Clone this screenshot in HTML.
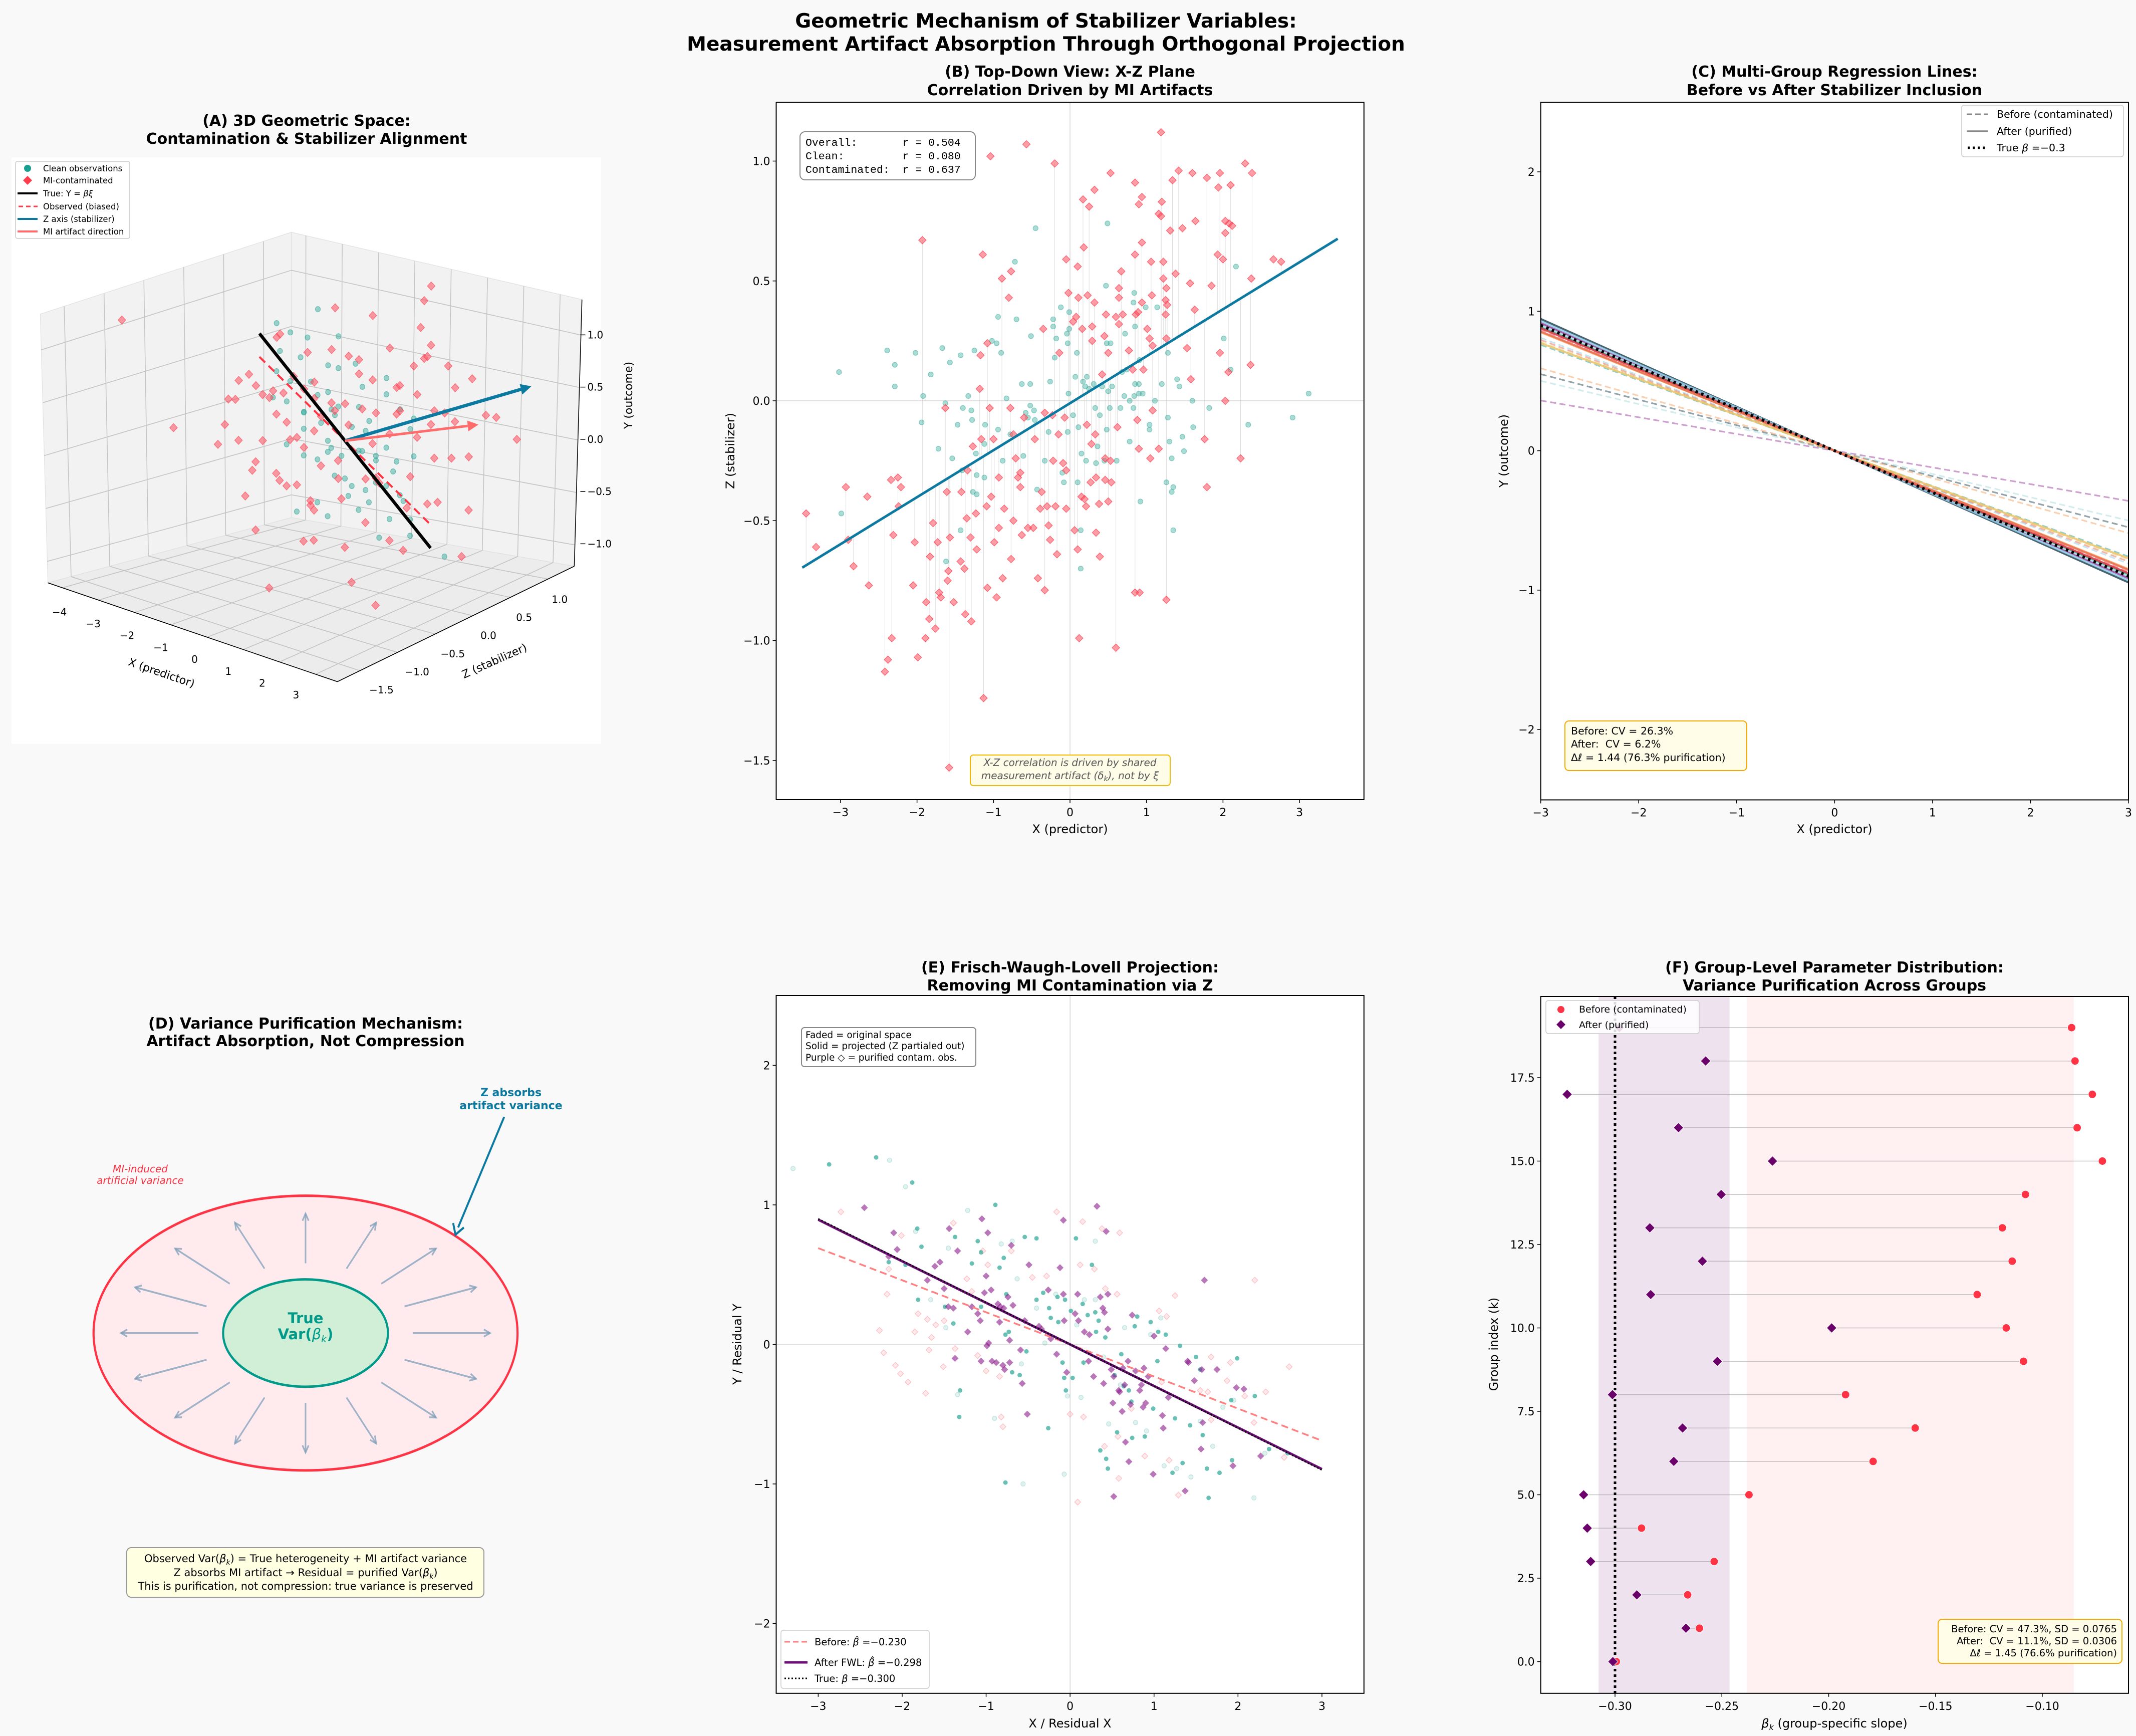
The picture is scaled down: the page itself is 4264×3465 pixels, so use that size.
<!DOCTYPE html>
<html><head><meta charset="utf-8"><title>Geometric Mechanism of Stabilizer Variables</title>
<style>
html,body{margin:0;padding:0;background:#f9f9f9;}
svg{display:block;font-family:"DejaVu Sans","Liberation Sans",sans-serif;}
.t{font-weight:bold;fill:#000;}
.tk{font-size:22px;fill:#000;}
.lab{font-size:24px;fill:#000;}
</style></head>
<body>
<svg id="fig" xmlns="http://www.w3.org/2000/svg" width="4264" height="3465" viewBox="0 0 4264 3465">
<rect x="0" y="0" width="4264" height="3465" fill="#f9f9f9"/>
<text class="t" x="2088" y="55" font-size="39" text-anchor="middle">Geometric Mechanism of Stabilizer Variables:</text>
<text class="t" x="2088" y="101" font-size="39" text-anchor="middle">Measurement Artifact Absorption Through Orthogonal Projection</text>

<!-- Panel A -->
<g id="panelA">
<text class="t" x="612" y="251" font-size="30" text-anchor="middle">(A) 3D Geometric Space:</text>
<text class="t" x="612" y="287" font-size="30" text-anchor="middle">Contamination &amp; Stabilizer Alignment</text>
<rect x="23" y="314" width="1177" height="1171" fill="#ffffff"/>
<g id="aG" transform="translate(0,200) scale(0.7653,0.829)"></g>
<g id="aT"></g>
<text x="320" y="1350" font-size="22" text-anchor="middle" transform="rotate(19 320 1350)">X (predictor)</text>
<text x="990" y="1326" font-size="22" text-anchor="middle" transform="rotate(-24 990 1326)">Z (stabilizer)</text>
<text x="1262" y="789" font-size="22" text-anchor="middle" transform="rotate(-90 1262 789)">Y (outcome)</text>
<g>
<rect x="31" y="322" width="228" height="154" rx="4" fill="#fff" fill-opacity="0.85" stroke="#ccc" stroke-width="1.5"/>
<circle cx="55" cy="336" r="7" fill="#17a08f"/>
<path d="M55 351 L64 360 L55 369 L46 360 Z" fill="#ff3b4e"/>
<line x1="35" y1="386" x2="75" y2="386" stroke="#000" stroke-width="4"/>
<line x1="37" y1="412" x2="75" y2="412" stroke="#ff3b4e" stroke-width="3" stroke-dasharray="9,6"/>
<line x1="35" y1="437" x2="75" y2="437" stroke="#0b79a0" stroke-width="4"/>
<line x1="35" y1="462" x2="75" y2="462" stroke="#ff6b6b" stroke-width="4"/>
<g font-size="16.5">
<text x="86" y="342">Clean observations</text>
<text x="86" y="366">MI-contaminated</text>
<text x="86" y="392">True: Y = <tspan font-style="italic">βξ</tspan></text>
<text x="86" y="418">Observed (biased)</text>
<text x="86" y="443">Z axis (stabilizer)</text>
<text x="86" y="468">MI artifact direction</text>
</g></g>
</g>

<!-- Panel B -->
<g id="panelB">
<text class="t" x="2136" y="153" font-size="30" text-anchor="middle">(B) Top-Down View: X-Z Plane</text>
<text class="t" x="2136" y="190" font-size="30" text-anchor="middle">Correlation Driven by MI Artifacts</text>
<rect x="1549.5" y="204" width="1173.3" height="1392" fill="#fff"/>
<g id="bG"></g>
<rect x="1549.5" y="204" width="1173.3" height="1392" fill="none" stroke="#000" stroke-width="2"/>
<text class="lab" x="2136" y="1663" text-anchor="middle">X (predictor)</text>
<text class="lab" x="1466" y="900" text-anchor="middle" transform="rotate(-90 1466 900)">Z (stabilizer)</text>
<g>
<rect x="1597" y="263" width="350" height="96" rx="10" fill="#fff" stroke="#888" stroke-width="2"/>
<text x="1608" y="291" font-family="Liberation Mono, DejaVu Sans Mono, monospace" font-size="21.5" xml:space="preserve">Overall:       r = 0.504</text>
<text x="1608" y="318" font-family="Liberation Mono, DejaVu Sans Mono, monospace" font-size="21.5" xml:space="preserve">Clean:         r = 0.080</text>
<text x="1608" y="345" font-family="Liberation Mono, DejaVu Sans Mono, monospace" font-size="21.5" xml:space="preserve">Contaminated:  r = 0.637</text>
</g>
<g>
<rect x="1937" y="1507" width="399" height="61" rx="6" fill="#fffde8" stroke="#f5b800" stroke-width="2"/>
<text x="2136" y="1529" font-size="20" font-style="italic" fill="#555" text-anchor="middle">X-Z correlation is driven by shared</text>
<text x="2136" y="1555" font-size="20" font-style="italic" fill="#555" text-anchor="middle">measurement artifact (δ<tspan font-size="14" dy="4">k</tspan><tspan dy="-4">), not by ξ</tspan></text>
</g>
</g>

<!-- Panel C -->
<g id="panelC">
<text class="t" x="3662" y="153" font-size="30" text-anchor="middle">(C) Multi-Group Regression Lines:</text>
<text class="t" x="3662" y="190" font-size="30" text-anchor="middle">Before vs After Stabilizer Inclusion</text>
<rect x="3075.7" y="204" width="1173.3" height="1392.5" fill="#fff"/>
<g id="cG"></g>
<rect x="3075.7" y="204" width="1173.3" height="1392.5" fill="none" stroke="#000" stroke-width="2"/>
<text class="lab" x="3662" y="1663" text-anchor="middle">X (predictor)</text>
<text class="lab" x="3010" y="900" text-anchor="middle" transform="rotate(-90 3010 900)">Y (outcome)</text>
<g>
<rect x="3916" y="210" width="323" height="103" rx="5" fill="#fff" stroke="#ccc" stroke-width="1.5"/>
<line x1="3926" y1="228" x2="3968" y2="228" stroke="#888" stroke-width="3" stroke-dasharray="11,6"/>
<line x1="3926" y1="262" x2="3968" y2="262" stroke="#888" stroke-width="3.5"/>
<line x1="3928" y1="295" x2="3968" y2="295" stroke="#000" stroke-width="5" stroke-dasharray="4,6"/>
<text x="3986" y="235" font-size="20.5">Before (contaminated)</text>
<text x="3986" y="269" font-size="20.5">After (purified)</text>
<text x="3986" y="302" font-size="20.5">True <tspan font-style="italic">β</tspan> =−0.3</text>
</g>
<g>
<rect x="3124" y="1439" width="363" height="99" rx="8" fill="#fffde8" stroke="#f5a800" stroke-width="2"/>
<text x="3136" y="1466" font-size="20.5">Before: CV = 26.3%</text>
<text x="3136" y="1492" font-size="20.5" xml:space="preserve">After:  CV = 6.2%</text>
<text x="3136" y="1519" font-size="20.5">Δ<tspan font-style="italic">ℓ</tspan> = 1.44 (76.3% purification)</text>
</g>
</g>

<!-- Panel D -->
<g id="panelD">
<text class="t" x="610" y="2053" font-size="30" text-anchor="middle">(D) Variance Purification Mechanism:</text>
<text class="t" x="610" y="2088" font-size="30" text-anchor="middle">Artifact Absorption, Not Compression</text>
<g id="dG" transform="translate(0,1850) scale(0.7653,0.8929)"></g>
<text x="610" y="2641" font-size="29" font-weight="bold" fill="#009a8a" text-anchor="middle">True</text>
<text x="610" y="2673" font-size="29" font-weight="bold" fill="#009a8a" text-anchor="middle">Var(<tspan font-style="italic" font-weight="normal">β</tspan><tspan font-size="19" dy="6" font-style="italic" font-weight="normal">k</tspan><tspan dy="-6">)</tspan></text>
<text x="280" y="2340" font-size="20" font-style="italic" fill="#ff3344" text-anchor="middle">MI-induced</text>
<text x="280" y="2363" font-size="20" font-style="italic" fill="#ff3344" text-anchor="middle">artificial variance</text>
<text x="1020" y="2188" font-size="22" font-weight="bold" fill="#0b79a0" text-anchor="middle">Z absorbs</text>
<text x="1020" y="2214" font-size="22" font-weight="bold" fill="#0b79a0" text-anchor="middle">artifact variance</text>
<g>
<rect x="253" y="3089" width="713" height="99" rx="9" fill="#ffffe2" stroke="#999" stroke-width="2"/>
<text x="610" y="3118" font-size="21" text-anchor="middle">Observed Var(<tspan font-style="italic">β</tspan><tspan font-size="14" dy="5" font-style="italic">k</tspan><tspan dy="-5">) = True heterogeneity + MI artifact variance</tspan></text>
<text x="610" y="3146" font-size="21" text-anchor="middle">Z absorbs MI artifact → Residual = purified Var(<tspan font-style="italic">β</tspan><tspan font-size="14" dy="5" font-style="italic">k</tspan><tspan dy="-5">)</tspan></text>
<text x="610" y="3173" font-size="21" text-anchor="middle">This is purification, not compression: true variance is preserved</text>
</g>
</g>

<!-- Panel E -->
<g id="panelE">
<text class="t" x="2136" y="1941" font-size="30" text-anchor="middle">(E) Frisch-Waugh-Lovell Projection:</text>
<text class="t" x="2136" y="1977" font-size="30" text-anchor="middle">Removing MI Contamination via Z</text>
<rect x="1549.5" y="1987" width="1173.3" height="1392.8" fill="#fff"/>
<g id="eG"></g>
<rect x="1549.5" y="1987" width="1173.3" height="1392.8" fill="none" stroke="#000" stroke-width="2"/>
<text class="lab" x="2136" y="3448" text-anchor="middle">X / Residual X</text>
<text class="lab" x="1480" y="2683" text-anchor="middle" transform="rotate(-90 1480 2683)">Y / Residual Y</text>
<g>
<rect x="1600" y="2051" width="348" height="78" rx="6" fill="#fff" stroke="#888" stroke-width="2"/>
<text x="1608" y="2072" font-size="18.5">Faded = original space</text>
<text x="1608" y="2094" font-size="18.5">Solid = projected (Z partialed out)</text>
<text x="1608" y="2117" font-size="18.5">Purple ◇ = purified contam. obs.</text>
</g>
<g>
<rect x="1559" y="3254" width="296" height="116" rx="5" fill="#fff" stroke="#ccc" stroke-width="1.5"/>
<line x1="1566" y1="3277" x2="1612" y2="3277" stroke="#ff8080" stroke-width="3" stroke-dasharray="11,6"/>
<line x1="1566" y1="3318" x2="1612" y2="3318" stroke="#6d0f77" stroke-width="5"/>
<line x1="1566" y1="3350" x2="1612" y2="3350" stroke="#000" stroke-width="3" stroke-dasharray="3,4"/>
<text x="1626" y="3284" font-size="19.5">Before: <tspan font-style="italic">β̂</tspan> =−0.230</text>
<text x="1626" y="3325" font-size="19.5">After FWL: <tspan font-style="italic">β̂</tspan> =−0.298</text>
<text x="1626" y="3357" font-size="19.5">True: <tspan font-style="italic">β</tspan> =−0.300</text>
</g>
</g>

<!-- Panel F -->
<g id="panelF">
<text class="t" x="3662" y="1941" font-size="30" text-anchor="middle">(F) Group-Level Parameter Distribution:</text>
<text class="t" x="3662" y="1977" font-size="30" text-anchor="middle">Variance Purification Across Groups</text>
<rect x="3075.7" y="1989" width="1173.3" height="1390.8" fill="#fff"/>
<g id="fG"></g>
<rect x="3075.7" y="1989" width="1173.3" height="1390.8" fill="none" stroke="#000" stroke-width="2"/>
<text class="lab" x="3662" y="3448" text-anchor="middle"><tspan font-style="italic">β</tspan><tspan font-size="16" dy="5" font-style="italic">k</tspan><tspan dy="-5"> (group-specific slope)</tspan></text>
<text class="lab" x="2990" y="2683" text-anchor="middle" transform="rotate(-90 2990 2683)">Group index (k)</text>
<g>
<rect x="3086" y="1997" width="306" height="66" rx="5" fill="#fff" fill-opacity="0.85" stroke="#ccc" stroke-width="1.5"/>
<circle cx="3116" cy="2015" r="7" fill="#ff3344"/>
<path d="M3116 2036 L3125 2045 L3116 2054 L3107 2045 Z" fill="#6b006b"/>
<text x="3152" y="2021" font-size="19">Before (contaminated)</text>
<text x="3152" y="2052" font-size="19">After (purified)</text>
</g>
<g>
<rect x="3869" y="3232" width="367" height="88" rx="8" fill="#fffde8" stroke="#f5a800" stroke-width="2"/>
<text x="4226" y="3258" font-size="19.5" text-anchor="end">Before: CV = 47.3%, SD = 0.0765</text>
<text x="4226" y="3282" font-size="19.5" text-anchor="end" xml:space="preserve">After:  CV = 11.1%, SD = 0.0306</text>
<text x="4226" y="3306" font-size="19.5" text-anchor="end">Δ<tspan font-style="italic">ℓ</tspan> = 1.45 (76.6% purification)</text>
</g>
</g>
</svg>

<script>
const NS = 'http://www.w3.org/2000/svg';
function add(parent, tag, attrs) {
  const e = document.createElementNS(NS, tag);
  for (const k in attrs) e.setAttribute(k, attrs[k]);
  parent.appendChild(e);
  return e;
}
function diamond(x, y, h) { return 'M' + x + ' ' + (y - h) + 'L' + (x + h) + ' ' + y + 'L' + x + ' ' + (y + h) + 'L' + (x - h) + ' ' + y + 'Z'; }

/* ================= DATA ================= */
// Panel A (3D): [x, z, y]
const aContam = [[-4.3,-1.1,1.05],[-3.8,-0.6,-0.1],[-2.6,0.3,0.6],[-2.4,-0.5,0.3],[-2.2,-0.2,0.35],[-2.0,0.1,0.2],[-2.1,-0.8,0.0],[-1.9,0.4,0.5],[-1.8,-0.3,-0.1],[-1.6,0.2,0.25],[-1.5,-0.6,-0.25],[-1.4,0.5,0.55],[-1.3,-0.2,0.1],[-1.2,0.0,-0.2],[-1.1,-0.9,-0.35],[-1.0,0.3,0.15],[-0.9,-0.4,-0.4],[-0.8,0.6,0.35],[-0.7,-0.1,0.05],[-0.6,0.2,-0.5],[-0.5,-0.7,-0.2],[-0.4,0.4,0.6],[-0.3,-0.3,-0.6],[-0.2,0.1,0.3],[0.0,-0.5,-0.45],[0.1,0.6,0.7],[0.2,-0.2,-0.1],[0.3,0.3,0.2],[0.4,-0.8,-0.65],[0.5,0.5,0.4],[0.6,0.0,-0.3],[0.7,0.8,0.6],[0.8,-0.4,-0.8],[0.9,0.2,0.1],[1.0,0.6,1.0],[1.1,-0.1,-0.2],[1.2,0.9,0.55],[1.3,0.3,-0.3],[1.4,-0.6,-1.0],[1.5,0.7,0.2],[1.6,0.1,-0.5],[1.7,1.0,0.45],[1.8,0.4,-0.1],[2.0,0.8,-0.2],[2.1,-0.2,-0.75],[2.2,1.1,0.1],[2.4,0.6,-0.6],[2.6,1.2,-0.1],[0.5,0.9,1.1],[-0.2,-1.0,-1.1],[1.9,-0.5,-1.2],[-1.7,0.7,0.85],[0.3,1.1,1.15],[2.8,0.3,-0.9],[-2.8,-0.2,0.15],[-1.2,-0.5,0.45],[-0.6,0.7,0.9],[0.9,-0.9,-0.55],[1.4,0.5,0.8],[-2.3,0.2,0.7],[2.3,0.2,-0.4],[-1.0,-0.8,-0.7],[0.0,0.4,0.45],[1.0,1.1,0.25],
[-2.5,-0.3,0.4],[-2.3,-0.6,0.1],[-2.0,-0.4,0.55],[-1.9,-0.1,0.3],[-1.7,-0.7,0.05],[-1.6,-0.4,0.4],[-1.5,0.0,0.45],[-1.4,-0.3,0.2],[-1.3,0.2,0.35],[-1.2,-0.7,-0.1],[-1.1,0.1,0.25],[-1.0,-0.3,0.0],[-0.9,0.1,0.1],[-0.8,-0.6,-0.2],[-0.6,-0.4,0.1],[-0.5,0.1,0.2],[-0.4,-0.5,-0.3],[-0.3,0.2,0.05],[-0.1,-0.3,-0.15],[0.1,0.2,0.25],[0.2,-0.6,-0.35],[0.4,0.2,-0.05],[0.5,-0.3,-0.4],[0.7,0.4,0.2],[0.8,0.1,-0.35],[1.0,0.3,0.3],[1.1,0.5,0.4],[1.2,-0.3,-0.55],[1.3,0.6,0.1],[1.5,0.3,0.1],[1.6,0.5,0.3],[1.7,-0.2,-0.7],[1.8,0.7,0.15],[2.0,0.2,-0.45],[2.1,0.5,-0.1],[2.3,0.9,0.2],[0.6,0.7,0.55],[-0.7,0.4,0.6],[0.9,0.8,0.75],[1.2,0.2,0.6]];
const aClean = [[-2.0,0.2,0.75],[-1.8,-0.1,0.5],[-1.5,0.1,0.6],[-1.3,-0.2,0.3],[-1.1,0.3,0.5],[-1.0,-0.1,0.2],[-0.8,0.0,0.35],[-0.7,0.2,0.1],[-0.6,-0.3,0.15],[-0.4,0.1,0.25],[-0.3,-0.1,0.0],[-0.2,0.3,0.2],[-0.1,-0.2,-0.05],[0.0,0.1,0.1],[0.1,-0.1,-0.1],[0.2,0.2,0.05],[0.3,-0.3,-0.2],[0.4,0.0,-0.05],[0.5,0.2,-0.2],[0.6,-0.2,-0.3],[0.7,0.1,-0.1],[0.8,-0.1,-0.35],[0.9,0.3,-0.2],[1.0,-0.3,-0.45],[1.2,0.0,-0.3],[1.3,0.2,-0.5],[1.5,-0.1,-0.55],[1.7,0.1,-0.6],[-1.2,0.5,0.7],[-0.5,0.4,0.55],[0.2,-0.5,-0.4],[1.1,0.4,0.1],[-0.9,-0.4,0.0],[0.6,0.5,0.2],[2.5,0.2,-0.9],[-1.6,0.4,0.95],[-0.2,-0.6,-0.5],[0.8,0.6,0.1],
[-1.9,0.0,0.65],[-1.7,0.3,0.7],[-1.4,-0.1,0.45],[-1.2,0.1,0.4],[-0.9,0.2,0.3],[-0.8,-0.2,0.25],[-0.6,0.1,0.2],[-0.5,-0.1,0.15],[-0.3,0.4,0.35],[-0.2,-0.3,-0.1],[0.0,-0.2,0.0],[0.1,0.3,0.1],[0.3,0.1,-0.1],[0.4,-0.2,-0.25],[0.6,0.3,-0.1],[0.7,-0.3,-0.35],[0.9,0.0,-0.3],[1.0,0.2,-0.25],[1.1,-0.2,-0.4],[1.4,0.1,-0.4],[1.6,-0.3,-0.65],[-1.0,0.4,0.45],[0.2,0.5,0.3],[-0.4,-0.4,-0.05],[1.2,0.4,-0.15],[0.5,-0.5,-0.5],[-1.5,-0.3,0.35],[1.9,0.0,-0.7],[-2.2,0.1,0.85],[0.0,0.6,0.4]];
const aTrueBeta = -0.30;
const aObsBeta = -0.21;
const aLineRange = [-2.5, 2.5];
const aZVector = [2.46, 1.48, 0.3];
const aArtifactVector = [1.78, 1.05, 0.0];
const aXTicks = [-4, -3, -2, -1, 0, 1, 2, 3];
const aZTicks = [-1.5, -1.0, -0.5, 0.0, 0.5, 1.0];
const aYTicks = [-1.0, -0.5, 0.0, 0.5, 1.0];

// Panel B: [X, Z]
const bContam = [[-3.45,-0.47],[-3.32,-0.61],[-2.93,-0.36],[-2.90,-0.58],[-2.83,-0.69],[-2.65,-0.40],[-2.63,-0.77],[-2.34,-0.33],[-2.25,-0.32],[-2.21,-0.36],[-2.24,-0.44],[-2.31,-0.56],[-2.33,-0.99],[-2.38,-1.08],[-2.42,-1.13],[-2.05,-0.77],[-2.03,-0.59],[-1.99,-1.07],[-1.93,0.67],[-1.89,-0.99],[-1.88,-0.84],[-1.83,-0.65],[-1.84,-0.91],[-1.79,-0.51],[-1.76,-0.95],[-1.73,-0.59],[-1.71,-0.80],[-1.69,-0.82],[-1.63,-0.03],[-1.61,-0.38],[-1.59,-0.71],[-1.60,-0.75],[-1.57,-0.57],[-1.52,-0.84],[-1.58,-1.53],[-1.43,-0.67],[-1.42,-0.38],[-1.38,-0.70],[-1.37,-0.89],[-1.35,-0.49],[-1.34,-0.29],[-1.30,-0.57],[-1.29,-0.92],[-1.27,-0.19],[-1.23,-0.47],[-1.22,-0.62],[-1.18,0.05],[-1.17,0.19],[-1.16,-0.16],[-1.14,0.61],[-1.13,-1.24],[-1.09,-0.44],[-1.08,0.24],[-1.08,-0.78],[-1.05,-0.03],[-1.04,1.02],[-1.03,-0.40],[-1.00,-0.16],[-0.99,-0.59],[-0.96,-0.82],[-0.93,-0.32],[-0.93,-0.53],[-0.89,0.51],[-0.88,-0.74],[-0.86,-0.45],[-0.80,0.43],[-0.78,-0.03],[-0.77,0.54],[-0.77,-0.66],[-0.74,-0.14],[-0.74,-0.50],[-0.71,-0.24],[-0.68,-0.32],[-0.65,-0.30],[-0.65,-0.36],[-0.63,-0.56],[-0.60,-0.07],[-0.57,1.07],[-0.55,-0.53],[-0.48,-0.53],[-0.46,-0.16],[-0.42,-0.74],[-0.39,-0.45],[-0.37,-0.38],[-0.35,0.30],[-0.33,-0.05],[-0.33,-0.79],[-0.30,-0.44],[-0.28,-0.52],[-0.26,-0.58],[-0.23,-0.06],[-0.22,-0.25],[-0.20,0.99],[-0.19,-0.44],[-0.17,-0.64],[-0.15,-0.14],[-0.14,0.20],[-0.09,-0.26],[-0.07,-0.07],[-0.05,0.59],[-0.05,-0.29],[-0.05,-0.45],[-0.02,0.45],[0.04,0.33],[0.06,-0.54],[0.08,0.35],[0.10,-0.62],[0.10,0.56],[0.11,0.43],[0.12,-0.99],[0.16,0.30],[0.15,-0.40],[0.17,0.84],[0.18,0.64],[0.19,-0.41],[0.21,-0.44],[0.22,-0.10],[0.23,0.44],[0.25,0.81],[0.27,-0.34],[0.28,-0.18],[0.29,0.31],[0.29,0.25],[0.32,0.88],[0.32,0.41],[0.33,-0.14],[0.34,-0.32],[0.34,-0.55],[0.38,-0.43],[0.39,-0.65],[0.42,0.11],[0.45,0.27],[0.46,-0.24],[0.46,-0.33],[0.47,0.36],[0.50,0.20],[0.50,-0.42],[0.53,0.95],[0.53,-0.25],[0.54,-0.34],[0.60,-1.03],[0.60,0.35],[0.62,-0.11],[0.64,0.47],[0.64,0.32],[0.64,0.43],[0.67,0.54],[0.69,0.36],[0.77,0.21],[0.82,0.13],[0.85,0.61],[0.85,0.91],[0.86,0.36],[0.88,-0.08],[0.89,0.37],[0.90,0.82],[0.90,-0.20],[0.94,0.85],[0.94,0.66],[0.94,0.41],[0.85,-0.80],[0.91,-0.80],[0.96,0.13],[1.01,0.30],[1.04,0.26],[1.05,-0.24],[1.06,0.58],[1.07,0.44],[1.08,-0.04],[1.08,0.23],[1.16,-0.20],[1.16,0.78],[1.19,1.12],[1.19,0.77],[1.20,0.83],[1.22,0.58],[1.22,0.51],[1.25,0.36],[1.25,0.42],[1.26,0.47],[1.27,0.40],[1.26,0.26],[1.26,-0.83],[1.31,0.71],[1.34,0.92],[1.38,0.53],[1.42,0.96],[1.47,0.72],[1.53,0.22],[1.57,0.49],[1.58,0.09],[1.60,0.95],[1.63,0.38],[1.64,0.75],[1.76,-0.16],[1.79,-0.36],[1.79,0.93],[1.85,0.48],[1.93,0.61],[1.94,0.89],[1.96,0.95],[1.96,0.20],[2.00,0.59],[2.03,0.75],[2.03,0.70],[2.03,0.00],[2.07,0.12],[2.08,0.74],[2.10,0.90],[2.12,0.73],[2.23,-0.24],[2.29,0.99],[2.36,0.15],[2.37,0.51],[2.38,0.95],[2.66,0.59],[2.76,0.58]];
const bClean = [[-3.02,0.12],[-2.99,-0.47],[-2.39,0.21],[-2.29,0.15],[-2.29,0.06],[-2.02,0.20],[-1.94,-0.09],[-1.92,0.02],[-1.82,0.11],[-1.72,-0.20],[-1.67,0.22],[-1.63,-0.01],[-1.62,-0.67],[-1.57,0.16],[-1.54,-0.24],[-1.47,-0.10],[-1.43,0.19],[-1.40,-0.03],[-1.43,-0.54],[-1.41,-0.29],[-1.33,0.02],[-1.29,-0.04],[-1.28,-0.08],[-1.25,0.21],[-1.23,-0.22],[-1.22,-0.31],[-1.27,-0.38],[-1.22,-0.39],[-1.12,-0.18],[-1.12,-0.32],[-1.11,-0.10],[-1.02,0.25],[-0.96,0.24],[-0.94,0.35],[-0.94,-0.12],[-0.90,0.20],[-0.88,-0.25],[-0.83,0.01],[-0.78,-0.14],[-0.72,0.58],[-0.70,0.34],[-0.63,0.07],[-0.61,-0.23],[-0.58,-0.05],[-0.55,-0.07],[-0.52,0.07],[-0.52,-0.02],[-0.51,0.27],[-0.47,-0.04],[-0.46,-0.08],[-0.45,0.72],[-0.43,-0.37],[-0.33,-0.25],[-0.28,-0.13],[-0.26,0.08],[-0.22,0.34],[-0.22,0.31],[-0.20,0.18],[-0.18,0.26],[-0.12,0.39],[-0.10,-0.30],[-0.08,-0.34],[-0.04,0.28],[-0.03,0.24],[-0.03,-0.13],[-0.02,0.03],[-0.01,0.30],[-0.01,0.37],[0.04,-0.06],[0.07,0.10],[0.09,0.20],[0.10,-0.34],[0.11,-0.11],[0.14,-0.54],[0.14,-0.70],[0.15,-0.22],[0.17,0.08],[0.20,0.06],[0.21,-0.25],[0.22,0.10],[0.25,0.05],[0.31,0.07],[0.33,-0.03],[0.34,-0.26],[0.36,-0.19],[0.39,-0.06],[0.42,0.06],[0.45,-0.25],[0.47,0.48],[0.48,-0.12],[0.48,0.24],[0.49,0.74],[0.50,0.04],[0.52,-0.03],[0.53,0.24],[0.55,0.06],[0.61,-0.25],[0.66,-0.03],[0.68,0.12],[0.71,0.02],[0.72,0.28],[0.74,0.13],[0.78,-0.17],[0.78,0.00],[0.83,-0.03],[0.83,0.41],[0.84,0.45],[0.84,0.02],[0.85,0.31],[0.85,0.07],[0.90,0.07],[0.90,0.03],[0.91,0.17],[0.92,-0.42],[0.95,0.03],[0.99,0.39],[1.04,-0.10],[1.04,-0.12],[1.11,0.00],[1.14,0.39],[1.20,0.07],[1.28,0.20],[1.28,-0.07],[1.30,-0.17],[1.26,-0.34],[1.33,-0.24],[1.33,-0.38],[1.35,-0.36],[1.35,-0.54],[1.40,0.09],[1.43,0.06],[1.47,-0.15],[1.49,-0.21],[1.60,0.00],[1.61,-0.11],[1.82,-0.03],[2.01,0.26],[2.10,0.13],[2.17,0.56],[2.33,-0.10],[2.91,-0.07],[3.12,0.03]];
const bFit = [0.196, -0.01];
const bFitRange = [-3.5, 3.5];
const bXTicks = [-3, -2, -1, 0, 1, 2, 3];
const bYTicks = [-1.5, -1.0, -0.5, 0.0, 0.5, 1.0];

// Panel C: group slopes
const cBefore = [-0.183, -0.12, -0.167, -0.197, -0.27, -0.253, -0.26, -0.29, -0.265];
const cAfter  = [-0.315, -0.305, -0.300, -0.283, -0.31, -0.295, -0.257, -0.293, -0.285];
const cTrueBeta = -0.3;
const cXRange = [-3, 3];
const cXTicks = [-3, -2, -1, 0, 1, 2, 3];
const cYTicks = [-2, -1, 0, 1, 2];

// Panel E: [X, Y]
const ePurified = [[-2.45,0.98],[-2.10,0.80],[-2.06,0.68],[-2.16,0.63],[-1.70,0.46],[-1.61,0.56],[-1.55,0.59],[-1.50,0.40],[-1.45,0.27],[-1.39,0.26],[-1.44,0.83],[-1.34,0.67],[-1.17,0.27],[-1.22,0.09],[-1.37,-0.10],[-1.05,0.90],[-0.98,0.80],[-1.00,0.49],[-0.94,0.39],[-1.02,0.37],[-1.10,0.22],[-1.07,0.17],[-1.06,-0.12],[-0.99,-0.01],[-0.97,0.01],[-0.93,-0.12],[-0.86,0.29],[-0.88,-0.13],[-0.84,0.16],[-0.83,0.27],[-0.79,0.26],[-0.80,-0.15],[-0.78,-0.18],[-0.74,0.34],[-0.72,-0.13],[-0.72,0.03],[-0.70,0.71],[-0.68,0.28],[-0.59,-0.04],[-0.57,-0.28],[-0.54,0.17],[-0.49,0.57],[-0.51,-0.50],[-0.37,0.13],[-0.34,0.11],[-0.26,0.39],[-0.23,0.04],[-0.16,-0.07],[-0.12,0.55],[-0.08,0.89],[-0.08,0.36],[-0.07,0.17],[-0.04,-0.20],[0.06,0.22],[0.09,0.36],[0.10,0.17],[0.17,0.09],[0.22,-0.12],[0.23,0.07],[0.28,-0.23],[0.32,0.99],[0.36,0.34],[0.39,0.26],[0.40,-0.28],[0.41,0.23],[0.43,0.81],[0.45,0.11],[0.45,0.36],[0.49,-0.18],[0.52,-0.23],[0.51,-0.42],[0.58,-0.33],[0.59,-0.34],[0.62,-0.48],[0.63,-0.17],[0.66,-0.70],[0.65,-0.29],[0.69,-0.12],[0.70,-0.84],[0.72,-0.43],[0.74,0.21],[0.78,-0.19],[0.83,-0.33],[0.85,-0.29],[0.87,-0.45],[0.88,-0.17],[0.90,-0.42],[0.93,-0.23],[0.99,-0.93],[1.00,0.06],[1.10,-0.51],[1.11,-0.60],[1.14,-0.03],[1.17,-0.38],[1.37,-1.05],[1.40,-0.12],[1.41,-0.13],[1.48,-0.26],[1.57,-0.18],[1.58,-0.56],[1.60,0.46],[1.56,-0.75],[1.75,-0.18],[1.98,-0.31],[2.07,-0.32],[1.94,-0.87],[2.27,-0.80],[0.52,-1.09]];
const eCleanProj = [[-2.87,1.29],[-2.31,1.34],[-1.88,1.16],[-1.82,0.83],[-1.77,0.70],[-1.81,0.32],[-2.16,0.59],[-1.96,0.57],[-1.37,0.77],[-1.49,0.27],[-1.39,0.15],[-1.31,-0.33],[-1.32,-0.52],[-1.17,0.58],[-1.10,0.74],[-1.06,0.66],[-1.06,0.27],[-0.89,1.00],[-0.84,0.55],[-0.79,0.62],[-0.76,0.36],[-0.77,0.07],[-0.73,0.09],[-0.69,-0.20],[-0.77,-0.99],[-0.60,-0.22],[-0.54,0.77],[-0.52,-0.05],[-0.40,0.76],[-0.40,0.32],[-0.32,0.37],[-0.25,0.26],[-0.23,0.19],[-0.26,-0.60],[-0.15,0.34],[-0.14,0.16],[-0.09,-0.13],[-0.07,-0.24],[-0.05,-0.33],[-0.06,0.32],[0.01,0.24],[0.07,0.76],[0.03,-0.24],[0.16,-0.13],[0.15,0.29],[0.21,0.21],[0.26,0.57],[0.30,0.23],[0.31,0.09],[0.34,0.17],[0.36,-0.76],[0.42,0.05],[0.43,-0.82],[0.45,-0.89],[0.53,-0.22],[0.56,-0.63],[0.61,-0.07],[0.64,-0.30],[0.70,-0.33],[0.73,-0.41],[0.74,-0.67],[0.77,0.13],[0.80,0.20],[0.89,-0.66],[0.96,0.16],[0.99,-0.46],[1.04,-0.12],[1.05,0.09],[1.14,0.07],[1.22,-0.92],[1.25,-0.53],[1.31,-0.01],[1.34,-0.85],[1.43,-0.58],[1.50,-0.09],[1.55,-0.18],[1.58,-0.65],[1.63,-0.89],[1.65,-1.10],[1.78,-0.92],[1.99,-0.10],[1.92,-0.40],[1.93,-0.83],[2.20,-0.37],[2.37,-0.75],[2.59,-0.78]];
const eContamOrig = [[-2.73,0.95],[-2.27,0.10],[-2.22,-0.06],[-2.18,0.36],[-2.16,0.54],[-2.08,-0.15],[-2.02,-0.21],[-2.01,0.78],[-1.93,-0.27],[-1.85,0.09],[-1.81,0.22],[-1.72,-0.35],[-1.70,0.18],[-1.68,-0.04],[-1.65,0.05],[-1.60,0.14],[-1.51,-0.16],[-1.50,0.17],[-1.39,0.87],[-1.37,-0.03],[-1.23,0.47],[-1.17,0.38],[-1.10,-0.08],[-1.04,0.67],[-1.00,-0.19],[-0.98,0.57],[-0.84,-0.23],[-0.82,-0.52],[-0.80,-0.59],[-0.70,0.67],[-0.45,0.48],[-0.28,0.49],[-0.16,0.95],[0.00,-0.50],[0.09,-1.13],[0.12,0.57],[0.15,0.88],[0.16,-0.52],[0.29,0.54],[0.38,0.83],[0.42,0.40],[0.56,0.36],[0.59,0.80],[0.57,-0.66],[0.58,-0.96],[0.41,-0.73],[0.73,-0.46],[0.89,-0.80],[1.06,0.24],[1.15,0.20],[1.09,-0.27],[1.18,-0.83],[1.25,0.35],[1.29,-1.08],[1.55,-0.33],[1.64,-0.34],[1.68,-0.54],[1.68,-0.09],[1.87,-0.26],[1.91,-0.13],[2.08,-0.37],[2.20,0.46],[2.19,-0.56],[2.33,-0.34],[2.55,-0.81],[2.61,-0.16]];
const eCleanOrig = [[-3.30,1.26],[-2.15,1.32],[-1.96,1.13],[-1.84,0.81],[-1.66,0.32],[-1.48,0.12],[-1.45,0.69],[-1.34,-0.36],[-1.22,0.96],[-0.90,-0.53],[-0.82,0.72],[-0.69,0.74],[-0.63,0.47],[-0.56,-1.00],[-0.58,-0.14],[-0.40,0.26],[-0.30,0.01],[-0.17,0.36],[-0.07,-0.93],[-0.03,-0.37],[0.08,0.14],[0.13,-0.38],[0.17,0.32],[0.30,0.74],[0.30,0.32],[0.40,-0.09],[0.46,-0.57],[0.60,-0.29],[0.65,0.12],[0.78,-0.56],[0.91,-0.62],[0.96,0.07],[1.08,0.19],[1.12,-0.87],[1.27,-0.89],[1.44,-0.95],[1.55,-0.55],[1.70,-0.73],[1.82,-0.45],[1.95,-0.40],[2.19,-1.10],[2.32,-0.78]];
const eBeforeBeta = -0.230;
const eAfterBeta = -0.298;
const eTrueBeta = -0.300;
const eLineRange = [-3, 3];
const eXTicks = [-3, -2, -1, 0, 1, 2, 3];
const eYTicks = [-2, -1, 0, 1, 2];

// Panel F: group slopes before/after (k = 0..19)
const fBefore = [-0.2994,-0.2605,-0.2660,-0.2536,-0.2876,-0.2373,-0.1792,-0.1595,-0.1921,-0.1088,-0.1169,-0.1305,-0.1141,-0.1187,-0.1079,-0.0719,-0.0837,-0.0766,-0.0847,-0.0863];
const fAfter  = [-0.3010,-0.2668,-0.2898,-0.3114,-0.3130,-0.3147,-0.2725,-0.2684,-0.3012,-0.2521,-0.1986,-0.2833,-0.2591,-0.2837,-0.2503,-0.2263,-0.2703,-0.3224,-0.2576,-0.2980];
const fAfterBand = [-0.3077, -0.2464];
const fBeforeBand = [-0.2383, -0.0853];
const fTrueBeta = -0.30;
const fXTicks = [-0.30, -0.25, -0.20, -0.15, -0.10];
const fYTicks = [0.0, 2.5, 5.0, 7.5, 10.0, 12.5, 15.0, 17.5];

/* ================= HELPERS ================= */
function fmt(v, d) { const s = Math.abs(v).toFixed(d); return (v < 0 ? '\u2212' : '') + s; }
function ticks(g, xs, ys, sx, sy, box, xd, yd) {
  xs.forEach(v => {
    const x = sx(v);
    const t = add(g, 'line', {x1: x, y1: box.b, x2: x, y2: box.b + 7, stroke: '#000', 'stroke-width': 1.5});
    
    
    const l = add(g, 'text', {x: x, y: box.b + 33, 'text-anchor': 'middle', class: 'tk'});
    l.textContent = fmt(v, xd);
    
    
  });
  ys.forEach(v => {
    const y = sy(v);
    const t = add(g, 'line', {x1: box.l - 7, y1: y, x2: box.l, y2: y, stroke: '#000', 'stroke-width': 1.5});
    
    
    const l = add(g, 'text', {x: box.l - 12, y: y + 8, 'text-anchor': 'end', class: 'tk'});
    l.textContent = fmt(v, yd);
    
    
  });
}

/* ================= PANEL A ================= */
(function () {
  const g = document.getElementById('aG');
  const tg = document.getElementById('aT');
  const A = [125, 1162], B = [760, 1005], C = [1498, 1122], D = [880, 1400];
  const At = [105, 515], Bt = [760, 318], Ct = [1518, 480];
  const xr = [-4.4, 3.6], zr = [-1.8, 1.35], yr = [-1.203, 1.338];
  const lerp = (p, q, t) => [p[0] + (q[0] - p[0]) * t, p[1] + (q[1] - p[1]) * t];
  const u = x => (x - xr[0]) / (xr[1] - xr[0]);
  const v = z => (z - zr[0]) / (zr[1] - zr[0]);
  const gy = y => (y - yr[0]) / (yr[1] - yr[0]);
  const pts = a => a.map(p => p[0] + ',' + p[1]).join(' ');
  let e;
  e = add(g, 'polygon', {points: pts([A, B, Bt, At]), fill: '#f2f2f2', stroke: '#e0e0e0', 'stroke-width': 1.5});
  
  
  e = add(g, 'polygon', {points: pts([B, C, Ct, Bt]), fill: '#f2f2f2', stroke: '#e0e0e0', 'stroke-width': 1.5});
  
  
  e = add(g, 'polygon', {points: pts([A, B, C, D]), fill: '#ececec', stroke: '#e0e0e0', 'stroke-width': 1.5});
  
  
  const gl = (p, q) => {
    const l = add(g, 'line', {x1: p[0], y1: p[1], x2: q[0], y2: q[1], stroke: '#c4c4c4', 'stroke-width': 2});
    
    
  };
  aZTicks.forEach(z => gl(lerp(A, B, v(z)), lerp(At, Bt, v(z))));
  aXTicks.forEach(x => gl(lerp(B, C, u(x)), lerp(Bt, Ct, u(x))));
  aYTicks.forEach(y => {
    gl(lerp(A, At, gy(y)), lerp(B, Bt, gy(y)));
    gl(lerp(B, Bt, gy(y)), lerp(C, Ct, gy(y)));
  });
  aXTicks.forEach(x => gl(lerp(A, D, u(x)), lerp(B, C, u(x))));
  aZTicks.forEach(z => gl(lerp(A, B, v(z)), lerp(D, C, v(z))));
  [[A, D], [D, C], [C, Ct]].forEach(s => {
    const l = add(g, 'line', {x1: s[0][0], y1: s[0][1], x2: s[1][0], y2: s[1][1], stroke: '#000', 'stroke-width': 2});
    
    
  });
  const P = (x, z, y) => [900 + 89.3 * x + 180 * z, 820 + 28.3 * x - 85 * z - 250 * y];
  aClean.forEach(p => {
    const s = P(p[0], p[1], p[2]);
    const c = add(g, 'circle', {cx: s[0], cy: s[1], r: 6.5, fill: '#2aa796', 'fill-opacity': 0.45, stroke: '#2aa796', 'stroke-opacity': 0.6, 'stroke-width': 1.5});
    
    
  });
  aContam.forEach(p => {
    const s = P(p[0], p[1], p[2]);
    const c = add(g, 'path', {d: diamond(s[0], s[1], 10), fill: '#ff4d5e', 'fill-opacity': 0.55, stroke: '#ff3344', 'stroke-opacity': 0.6, 'stroke-width': 1.5});
    
    
  });
  let p1 = P(aLineRange[0], 0, aObsBeta * aLineRange[0]), p2 = P(aLineRange[1], 0, aObsBeta * aLineRange[1]);
  e = add(g, 'line', {x1: p1[0], y1: p1[1], x2: p2[0], y2: p2[1], stroke: '#ff3344', 'stroke-width': 5, 'stroke-dasharray': '20,12'});
  
  
  p1 = P(aLineRange[0], 0, aTrueBeta * aLineRange[0]); p2 = P(aLineRange[1], 0, aTrueBeta * aLineRange[1]);
  e = add(g, 'line', {x1: p1[0], y1: p1[1], x2: p2[0], y2: p2[1], stroke: '#000', 'stroke-width': 8});
  
  
  const o = P(0, 0, 0);
  const arrow = (vec, col, w, name) => {
    const q = P(vec[0], vec[1], vec[2]);
    const dx = q[0] - o[0], dy = q[1] - o[1], L = Math.hypot(dx, dy), ux = dx / L, uy = dy / L;
    const hl = 28, hw = 13;
    const bx = q[0] - ux * hl, by = q[1] - uy * hl;
    const l = add(g, 'line', {x1: o[0], y1: o[1], x2: bx, y2: by, stroke: col, 'stroke-width': w});
    
    
    const h = add(g, 'polygon', {points: q[0] + ',' + q[1] + ' ' + (bx - uy * hw) + ',' + (by + ux * hw) + ' ' + (bx + uy * hw) + ',' + (by - ux * hw), fill: col});
    
    
  };
  arrow(aZVector, '#0b79a0', 8, 'z-axis-vector');
  arrow(aArtifactVector, '#ff6b6b', 6, 'artifact-vector');
  const T = (zx, zy) => [zx * 0.7653, 200 + zy * 0.829];
  aXTicks.forEach(x => {
    const t = (x + 4) / 7;
    const p = T(155 + t * (772 - 155), 1232 + t * (1432 - 1232));
    const l = add(tg, 'text', {x: p[0], y: p[1] + 7, 'text-anchor': 'middle', 'font-size': 20});
    l.textContent = fmt(x, 0);
    
    
  });
  aZTicks.forEach(z => {
    const t = (z + 1.5) / 2.5;
    const p = T(995 + t * (1460 - 995), 1420 + t * (1202 - 1420));
    const l = add(tg, 'text', {x: p[0], y: p[1] + 7, 'text-anchor': 'middle', 'font-size': 20});
    l.textContent = fmt(z, 1);
    
    
  });
  aYTicks.forEach(y => {
    const t = (1 - y) / 2;
    const p = T(1532, 565 + t * (1068 - 565));
    const l = add(tg, 'text', {x: p[0], y: p[1] + 7, 'font-size': 20});
    l.textContent = fmt(y, 1);
    
    
    const tk = add(tg, 'line', {x1: p[0] - 14, y1: p[1], x2: p[0] - 4, y2: p[1], stroke: '#000', 'stroke-width': 1.5});
    
    
  });
})();

/* ================= PANEL B ================= */
(function () {
  const g = document.getElementById('bG');
  const box = {l: 1549.5, r: 2722.8, t: 204, b: 1596};
  const sx = v => 2136 + v * 152.7;
  const sy = v => 800 - v * 478.5;
  let e = add(g, 'line', {x1: sx(0), y1: box.t, x2: sx(0), y2: box.b, stroke: '#ccc', 'stroke-width': 1.2});
  
  
  e = add(g, 'line', {x1: box.l, y1: sy(0), x2: box.r, y2: sy(0), stroke: '#ccc', 'stroke-width': 1.2});
  
  
  bContam.forEach((p, i) => {
    if (i % 2 !== 0) return;
    const l = add(g, 'line', {x1: sx(p[0]), y1: sy(p[1]), x2: sx(p[0]), y2: sy(bFit[0] * p[0] + bFit[1]), stroke: '#bbb', 'stroke-opacity': 0.5, 'stroke-width': 1});
    
    
  });
  bClean.forEach(p => {
    const c = add(g, 'circle', {cx: sx(p[0]), cy: sy(p[1]), r: 5, fill: '#2aa796', 'fill-opacity': 0.4, stroke: '#2aa796', 'stroke-opacity': 0.5, 'stroke-width': 1.2});
    
    
  });
  bContam.forEach(p => {
    const c = add(g, 'path', {d: diamond(sx(p[0]), sy(p[1]), 7.5), fill: '#ff4d5e', 'fill-opacity': 0.55, stroke: '#ff3344', 'stroke-opacity': 0.7, 'stroke-width': 1.2});
    
    
  });
  e = add(g, 'line', {x1: sx(bFitRange[0]), y1: sy(bFit[0] * bFitRange[0] + bFit[1]), x2: sx(bFitRange[1]), y2: sy(bFit[0] * bFitRange[1] + bFit[1]), stroke: '#0b79a0', 'stroke-width': 5});
  
  
  ticks(g, bXTicks, bYTicks, sx, sy, box, 0, 1);
})();

/* ================= PANEL C ================= */
(function () {
  const g = document.getElementById('cG');
  const box = {l: 3075.7, r: 4249, t: 204, b: 1596.5};
  const sx = v => 3662.35 + v * 195.55;
  const sy = v => 899.6 - v * 278.3;
  const cols = ['#264653', '#9b3fa0', '#a8dadc', '#f4a261', '#8ecae6', '#2a9d8f', '#e9c46a', '#e63946', '#e76f51'];
  cBefore.forEach((b, i) => {
    const l = add(g, 'line', {x1: sx(cXRange[0]), y1: sy(b * cXRange[0]), x2: sx(cXRange[1]), y2: sy(b * cXRange[1]), stroke: cols[i], 'stroke-opacity': 0.5, 'stroke-width': 3.2, 'stroke-dasharray': '12,7'});
    
    
  });
  cAfter.forEach((b, i) => {
    const l = add(g, 'line', {x1: sx(cXRange[0]), y1: sy(b * cXRange[0]), x2: sx(cXRange[1]), y2: sy(b * cXRange[1]), stroke: cols[i], 'stroke-opacity': 0.85, 'stroke-width': 4});
    
    
  });
  const t = add(g, 'line', {x1: sx(cXRange[0]), y1: sy(cTrueBeta * cXRange[0]), x2: sx(cXRange[1]), y2: sy(cTrueBeta * cXRange[1]), stroke: '#000', 'stroke-width': 6, 'stroke-dasharray': '5,7'});
  
  
  ticks(g, cXTicks, cYTicks, sx, sy, box, 0, 0);
})();

/* ================= PANEL D ================= */
(function () {
  const g = document.getElementById('dG');
  const cx = 797, cy = 908;
  let e = add(g, 'ellipse', {cx: cx, cy: cy, rx: 553, ry: 307, fill: '#ffebee', stroke: '#ff3344', 'stroke-width': 5.5});
  
  
  for (let k = 0; k < 16; k++) {
    const a = k * Math.PI / 8;
    const x1 = cx + 1.3 * 215 * Math.cos(a), y1 = cy - 1.3 * 120 * Math.sin(a);
    const x2 = cx + 0.87 * 553 * Math.cos(a), y2 = cy - 0.87 * 307 * Math.sin(a);
    const L = Math.hypot(x2 - x1, y2 - y1), ux = (x2 - x1) / L, uy = (y2 - y1) / L;
    const l = add(g, 'line', {x1: x1, y1: y1, x2: x2, y2: y2, stroke: '#7f9fba', 'stroke-opacity': 0.75, 'stroke-width': 4});
    
    
    const h = add(g, 'polyline', {points: (x2 - ux * 16 - uy * 8) + ',' + (y2 - uy * 16 + ux * 8) + ' ' + x2 + ',' + y2 + ' ' + (x2 - ux * 16 + uy * 8) + ',' + (y2 - uy * 16 - ux * 8), fill: 'none', stroke: '#7f9fba', 'stroke-opacity': 0.75, 'stroke-width': 4});
    
    
  }
  e = add(g, 'ellipse', {cx: cx, cy: cy, rx: 215, ry: 120, fill: '#d0efd6', stroke: '#009a8a', 'stroke-width': 5.5});
  
  
  e = add(g, 'line', {x1: 1315, y1: 425, x2: 1195, y2: 672, stroke: '#0b79a0', 'stroke-width': 5});
  
  
  e = add(g, 'polyline', {points: '1182,662 1188,688 1210,672', fill: 'none', stroke: '#0b79a0', 'stroke-width': 5});
  
  
})();

/* ================= PANEL E ================= */
(function () {
  const g = document.getElementById('eG');
  const box = {l: 1549.5, r: 2722.8, t: 1987, b: 3379.8};
  const sx = v => 2136.15 + v * 167.6;
  const sy = v => 2683.4 - v * 278.5;
  let e = add(g, 'line', {x1: sx(0), y1: box.t, x2: sx(0), y2: box.b, stroke: '#ccc', 'stroke-width': 1.2});
  
  
  e = add(g, 'line', {x1: box.l, y1: sy(0), x2: box.r, y2: sy(0), stroke: '#ddd', 'stroke-width': 1.2});
  
  
  eCleanOrig.forEach(p => {
    const c = add(g, 'circle', {cx: sx(p[0]), cy: sy(p[1]), r: 4.5, fill: '#2aa796', 'fill-opacity': 0.15, stroke: '#2aa796', 'stroke-opacity': 0.25, 'stroke-width': 1.2});
    
    
  });
  eContamOrig.forEach(p => {
    const c = add(g, 'path', {d: diamond(sx(p[0]), sy(p[1]), 6), fill: '#ff6b7a', 'fill-opacity': 0.15, stroke: '#ff6b7a', 'stroke-opacity': 0.4, 'stroke-width': 1.2});
    
    
  });
  eCleanProj.forEach(p => {
    const c = add(g, 'circle', {cx: sx(p[0]), cy: sy(p[1]), r: 4.5, fill: '#2aa796', 'fill-opacity': 0.7});
    
    
  });
  ePurified.forEach(p => {
    const c = add(g, 'path', {d: diamond(sx(p[0]), sy(p[1]), 7), fill: '#8b1a8b', 'fill-opacity': 0.6});
    
    
  });
  const ln = (b, attrs, name) => {
    const l = add(g, 'line', Object.assign({x1: sx(eLineRange[0]), y1: sy(b * eLineRange[0]), x2: sx(eLineRange[1]), y2: sy(b * eLineRange[1])}, attrs));
    
    
  };
  ln(eBeforeBeta, {stroke: '#ff8080', 'stroke-width': 3.5, 'stroke-dasharray': '14,8'}, 'before-fit-line');
  ln(eAfterBeta, {stroke: '#6d0f77', 'stroke-width': 5}, 'after-fwl-line');
  ln(eTrueBeta, {stroke: '#000', 'stroke-width': 3, 'stroke-dasharray': '3,4'}, 'true-beta-line');
  ticks(g, eXTicks, eYTicks, sx, sy, box, 0, 0);
})();

/* ================= PANEL F ================= */
(function () {
  const g = document.getElementById('fG');
  const box = {l: 3075.7, r: 4249, t: 1989, b: 3379.8};
  const sx = v => 3224 + (v + 0.30) * 4265;
  const sy = k => 3316.5 - k * 66.6;
  let e = add(g, 'rect', {x: sx(fAfterBand[0]), y: box.t, width: sx(fAfterBand[1]) - sx(fAfterBand[0]), height: box.b - box.t, fill: '#8b3a8b', 'fill-opacity': 0.15});
  
  
  e = add(g, 'rect', {x: sx(fBeforeBand[0]), y: box.t, width: sx(fBeforeBand[1]) - sx(fBeforeBand[0]), height: box.b - box.t, fill: '#ff6b7a', 'fill-opacity': 0.1});
  
  
  fBefore.forEach((b, k) => {
    const l = add(g, 'line', {x1: sx(fAfter[k]), y1: sy(k), x2: sx(b), y2: sy(k), stroke: '#999', 'stroke-opacity': 0.6, 'stroke-width': 1.5});
    
    
  });
  e = add(g, 'line', {x1: sx(fTrueBeta), y1: box.t, x2: sx(fTrueBeta), y2: box.b, stroke: '#000', 'stroke-width': 5, 'stroke-dasharray': '5,6'});
  
  
  fBefore.forEach((b, k) => {
    const c = add(g, 'circle', {cx: sx(b), cy: sy(k), r: 8, fill: '#ff3344', stroke: '#fff', 'stroke-width': 1});
    
    
  });
  fAfter.forEach((a, k) => {
    const c = add(g, 'path', {d: diamond(sx(a), sy(k), 10), fill: '#6b006b', stroke: '#fff', 'stroke-width': 1});
    
    
  });
  ticks(g, fXTicks, fYTicks, sx, sy, box, 2, 1);
})();
</script>
</body></html>
